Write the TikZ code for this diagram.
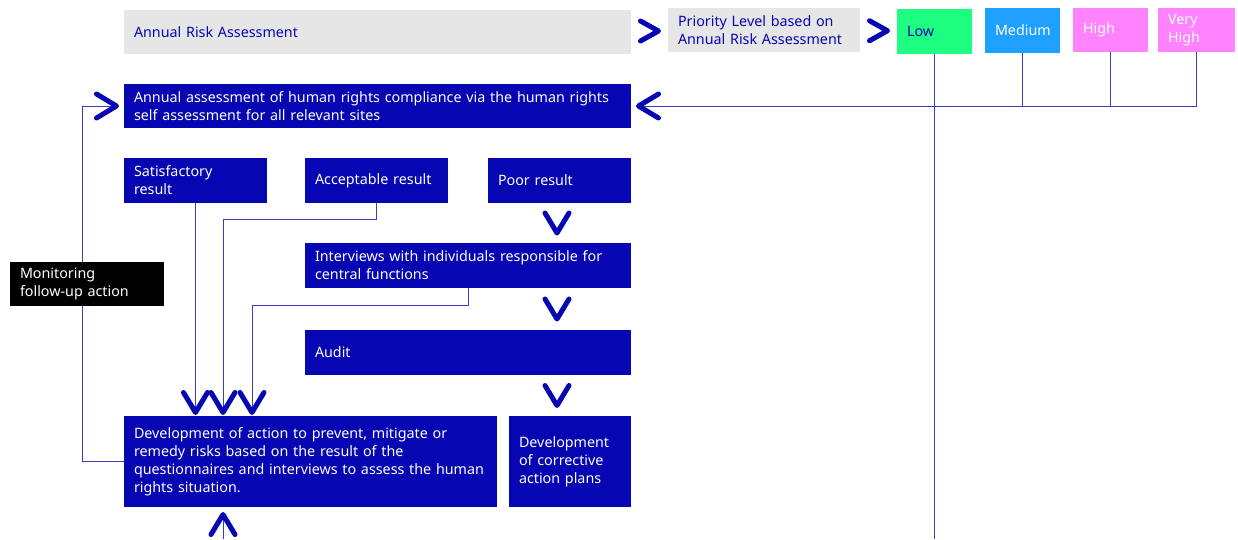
\documentclass[tikz,border=0pt]{standalone}
\usepackage{fontspec}
\setmainfont{Noto Sans}
\usetikzlibrary{arrows.meta,calc}
\definecolor{dblue}{RGB}{6,6,178}
\definecolor{lgray}{RGB}{230,230,230}
\definecolor{lgreen}{RGB}{30,255,130}
\definecolor{mblue}{RGB}{30,160,255}
\definecolor{pinkc}{RGB}{255,130,255}
\definecolor{lineblue}{RGB}{60,60,195}
\tikzset{
 chev/.tip={Straight Barb[length=20pt,width=24pt,line width=5pt,round,color=dblue]},
}
\begin{document}
\begin{tikzpicture}[x=1pt,y=-1pt,
 font=\fontsize{14.3}{18}\selectfont,
 box/.style={anchor=north west, fill=dblue, text=white, align=left, inner xsep=10pt, inner ysep=0pt, outer sep=0pt},
 graybox/.style={box, fill=lgray, text=dblue},
 conn/.style={draw=lineblue, line width=1pt},
 chevline/.style={draw=dblue, line width=5pt, line cap=round, line join=round},
 pics/vchev/.style={code={\draw[chevline] (-12,-10) -- (0,10) -- (12,-10);}},
 pics/rchev/.style={code={\draw[chevline] (-9,-10) -- (9,0) -- (-9,10);}},
]
\fill[white] (0,0) rectangle (1238,539);
\useasboundingbox (0,0) rectangle (1238,539);

% top row
\node[graybox, text width=487pt, minimum height=44pt] (ara) at (124,10) {Annual Risk Assessment};
\node[graybox, text width=172pt, minimum height=44pt] (prio) at (668,8) {Priority Level based on\\Annual Risk Assessment};
\node[box, fill=lgreen, text=dblue, text width=55pt, minimum height=45pt] (low) at (897,9) {Low};
\node[box, fill=mblue, text width=55pt, minimum height=45pt] (med) at (985,8) {Medium};
\node[box, fill=pinkc, text width=55pt, minimum height=44pt] (high) at (1073,8) {High};
\node[box, fill=pinkc, text width=57pt, minimum height=44pt] (vhigh) at (1158,8) {Very\\High};

\pic at ($(ara.east)!.5!(prio.west)$) {rchev};
\pic at ($(prio.east)!.5!(low.west)$) {rchev};

% main boxes
\node[box, text width=487pt, minimum height=44pt] (annual) at (124,84) {Annual assessment of human rights compliance via the human rights\\self assessment for all relevant sites};
\node[box, text width=123pt, minimum height=45pt] (sat) at (124,158) {Satisfactory\\result};
\node[box, text width=123pt, minimum height=45pt] (acc) at (305,158) {Acceptable result};
\node[box, text width=123pt, minimum height=45pt] (poor) at (488,158) {Poor result};
\node[box, text width=306pt, minimum height=45pt] (interv) at (305,243) {Interviews with individuals responsible for\\central functions};
\node[box, text width=306pt, minimum height=45pt] (audit) at (305,330) {Audit};
\node[box, text width=353pt, minimum height=91pt] (dev) at (124,416) {Development of action to prevent, mitigate or\\remedy risks based on the result of the\\questionnaires and interviews to assess the human\\rights situation.};
\node[box, text width=102pt, minimum height=91pt] (corr) at (509,416) {Development\\of corrective\\action plans};

% standalone chevrons
\coordinate (cx) at (557,0);
\pic at ($(cx |- poor.south)!.5!(cx |- interv.north)$) {vchev};
\pic at ($(cx |- interv.south)!.5!(cx |- audit.north)$) {vchev};
\pic at ($(cx |- audit.south)!.5!(cx |- corr.north)$) {vchev};

% connectors
\coordinate (bot) at (0,539);
\draw[conn] (low.south) -- (low.south |- bot);
\draw[conn] (med.south) -- (med.south |- annual.east);
\draw[conn] (high.south) -- (high.south |- annual.east);
\draw[conn, -chev, shorten >=5pt] (vhigh.south) |- (annual.east);

\coordinate (loopx) at (82,0);
\draw[conn, -chev, shorten >=5pt] (dev.west) -| (loopx |- annual.west) -- (annual.west);

\draw[conn, -chev, shorten >=1pt] (sat.south) -- (sat.south |- dev.north);
\coordinate (accb) at (223,219);
\draw[conn, -chev, shorten >=1pt] (acc.south) |- (accb) -- (accb |- dev.north);
\coordinate (intb) at (252,305);
\draw[conn, -chev, shorten >=1pt] (interv.south) |- (intb) -- (intb |- dev.north);
\coordinate (devin) at (223,539);
\draw[conn, -chev, shorten >=5pt] (devin) -- (devin |- dev.south);

\node[box, fill=black, text width=134pt, minimum height=44pt] (mon) at (10,262) {Monitoring\\follow-up action};
\end{tikzpicture}
\end{document}
